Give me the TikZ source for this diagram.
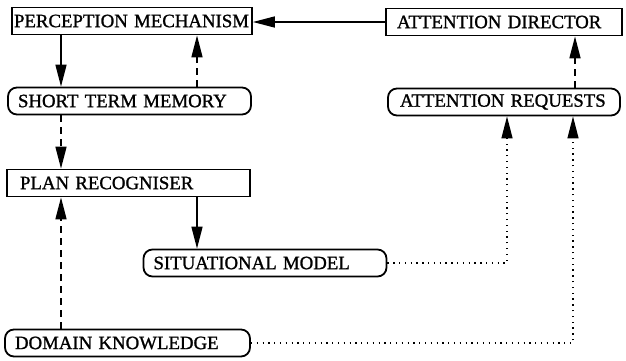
\documentclass[tikz,border=0pt]{standalone}
\usepackage{fontspec}
\setmainfont{Liberation Serif}
\newfontfamily\boxfont{Liberation Serif}[FakeBold=1.2]
\usetikzlibrary{arrows.meta,positioning}
\tikzset{
  box/.style={draw,line width=1.8pt,minimum height=27pt,text width=223pt,align=left,
    inner xsep=10pt,inner ysep=2pt,font=\boxfont\fontsize{18.8}{20}\selectfont},
  rbox/.style={box,rounded corners=9pt},
  ar/.style={-{Triangle[length=22pt,width=11pt]},line width=1.6pt},
  dar/.style={ar,dash pattern=on 7pt off 5pt},
  oar/.style={ar,line width=1.3pt,dash pattern=on 1.3pt off 4.5pt},
}
\begin{document}
\begin{tikzpicture}[x=1pt,y=-1pt]
  \useasboundingbox (0,0) rectangle (626,360);
  % columns for the vertical links
  \coordinate (cL) at (61,0);
  \coordinate (cM) at (197,0);
  \coordinate (cR) at (575,0);
  \coordinate (cS) at (507,0);
  \coordinate (cD) at (573,0);
  % boxes
  \node[box,text width=236pt,inner xsep=2pt] (pm) at (132,21) {PERCEPTION MECHANISM};
  \node[box,text width=214pt,inner xsep=11pt] (ad) at (504,22) {ATTENTION DIRECTOR};
  \node[rbox] (stm) at (129.5,101) {SHORT TERM MEMORY};
  \node[rbox,text width=208pt,inner xsep=12pt] (areq) at (504,102) {ATTENTION REQUESTS};
  \node[box,inner xsep=13pt,text width=217pt] (pr) at (128.5,183) {PLAN RECOGNISER};
  \node[rbox] (sm) at (265,263) {SITUATIONAL MODEL};
  \node[rbox,text width=225pt] (dk) at (127.5,343) {DOMAIN KNOWLEDGE};
  % links
  \draw[ar] (ad.west) -- (ad.west -| pm.east);
  \draw[ar] (pm.south -| cL) -- (stm.north -| cL);
  \draw[dar] (stm.north -| cM) -- (pm.south -| cM);
  \draw[dar] (areq.north -| cR) -- (ad.south -| cR);
  \draw[dar] (stm.south -| cL) -- (pr.north -| cL);
  \draw[ar] (pr.south -| cM) -- (sm.north -| cM);
  \draw[dar] (dk.north -| cL) -- (pr.south -| cL);
  \draw[oar] (sm.east) -| (areq.south -| cS);
  \draw[oar] (dk.east) -| (areq.south -| cD);
\end{tikzpicture}
\end{document}
